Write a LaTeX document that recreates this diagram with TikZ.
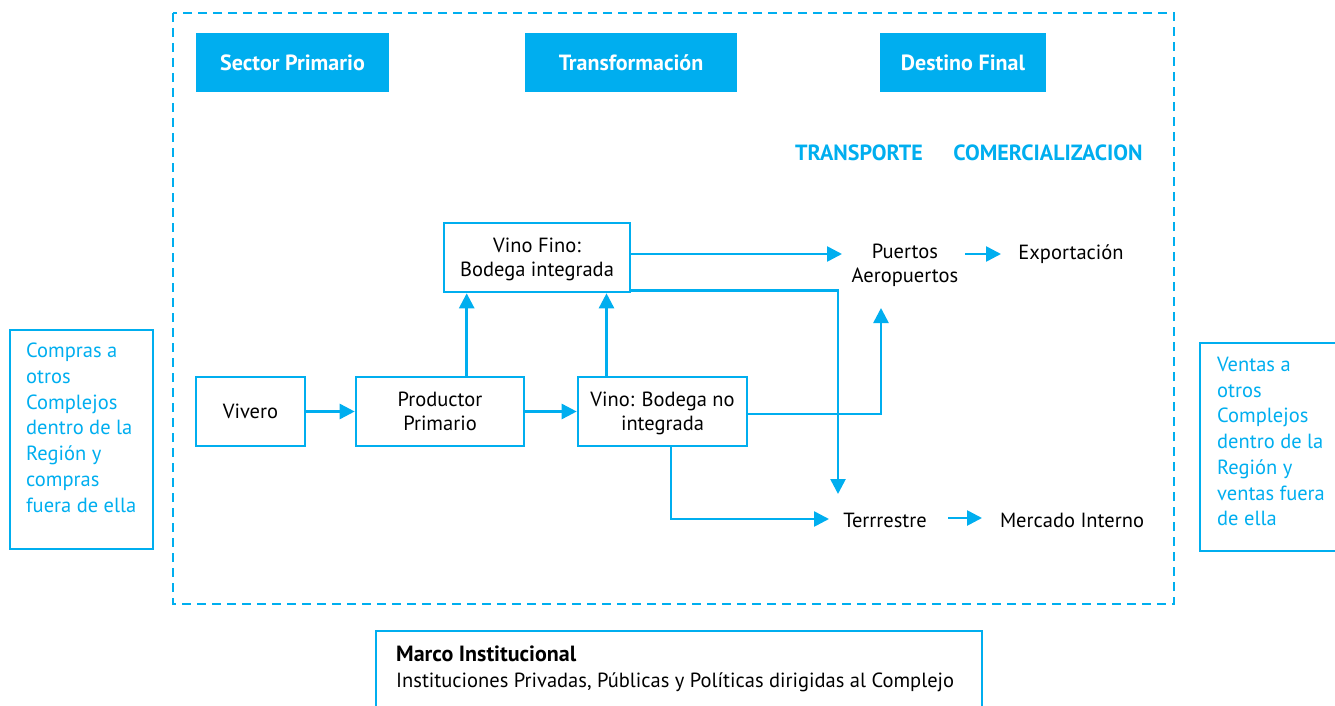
\documentclass[tikz,border=0pt]{standalone}
\usepackage{fontspec}
\setmainfont{PT Sans}
\usetikzlibrary{arrows.meta}
\definecolor{cy}{HTML}{00AEEF}
\tikzset{
  flow/.style={draw=cy, line width=2.6pt, -{Triangle[length=15pt,width=15pt]}},
  procbox/.style={draw=cy, line width=2.6pt, fill=white, align=center, inner sep=0pt, text depth=0pt, font=\fontsize{20.5}{24}\selectfont},
  headbox/.style={fill=cy, text=white, inner sep=0pt, font=\fontsize{22}{24}\selectfont\bfseries},
  plaintext/.style={align=center, inner sep=0pt, font=\fontsize{20.5}{24}\selectfont},
  colhead/.style={text=cy, inner sep=0pt, font=\fontsize{22}{24}\selectfont\bfseries},
  sidetext/.style={text=cy, align=left, inner sep=0pt, font=\fontsize{20.5}{25.7}\selectfont},
}
\begin{document}
\begin{tikzpicture}[x=1pt,y=-1pt]
\useasboundingbox (0,0) rectangle (1335,706);
\clip (0,0) rectangle (1335,706);
% dashed frame
\draw[cy, line width=2.4pt, dash pattern=on 9pt off 6pt] (173,13) rectangle (1174,604);
% headers
\node[headbox, minimum width=193pt, minimum height=59pt] (hsp) at (292.5,62.5) {Sector Primario};
\node[headbox, minimum width=212pt, minimum height=59pt] (htr) at (631,62.5) {Transformación};
\node[headbox, minimum width=166pt, minimum height=59pt] (hdf) at (963,62.5) {Destino Final};
\node[colhead] (tra) at (859,153) {TRANSPORTE};
\node[colhead] (com) at (1048,153) {COMERCIALIZACION};
% process boxes
\node[procbox, minimum width=186pt, minimum height=69pt] (vf) at (537,257.5) {Vino Fino:\\Bodega integrada};
\node[procbox, minimum width=109pt, minimum height=69pt] (viv) at (250.5,411.5) {Vivero};
\node[procbox, minimum width=168pt, minimum height=69pt] (pp) at (440,411.5) {Productor\\Primario};
\node[procbox, minimum width=169pt, minimum height=69pt] (vni) at (662.5,411.5) {Vino: Bodega no\\integrada};
% destination texts
\node[plaintext] (pue) at (905,265) {Puertos\\Aeropuertos};
\node[plaintext] (exp) at (1071,254) {Exportación};
\node[plaintext] (ter) at (885,520) {Terrrestre};
\node[plaintext] (mer) at (1072,520) {Mercado Interno};
\coordinate (pueA) at (842,254);
\coordinate (pueB) at (881,308);
\coordinate (terA) at (838,494);
\coordinate (terB) at (829,519);
\coordinate (expA) at (1001,254);
\coordinate (merA) at (982,518);
% connectors
\draw[flow] (pp.north -| vf.south west) ++(24pt,0) coordinate (ppup) -- (ppup |- vf.south);
\draw[flow] (viv.east) -- (pp.west);
\draw[flow] (pp.east) -- (vni.west);
\draw[flow] ([xshift=-56pt]vni.north) coordinate (vniup) -- (vniup |- vf.south);
\draw[flow] ([yshift=3.5pt]vf.east) -- (pueA);
\draw[flow] ([yshift=3pt]vf.south east) -| (terA);
\draw[flow] ([yshift=-2.5pt]vni.east) -| (pueB);
\draw[flow] ([xshift=8.5pt]vni.south) |- (terB);
\draw[flow] (965,254) coordinate (expS) -- (expA);
\draw[flow] (948,518) coordinate (merS) -- (merA);
% side boxes
\draw[cy, line width=2.6pt] (10,330) rectangle (153,549);
\node[sidetext, anchor=north west] (compras) at (26,343) {Compras a\\otros\\Complejos\\dentro de la\\Región y\\compras\\fuera de ella};
\draw[cy, line width=2.6pt] (1345,343) -- (1200,343) -- (1200,551) -- (1345,551);
\node[sidetext, anchor=north west] (ventas) at (1217,357) {Ventas a\\otros\\Complejos\\dentro de la\\Región y\\ventas fuera\\de ella};
% marco institucional
\draw[cy, line width=2.6pt] (376,715) -- (376,631) -- (982,631) -- (982,715);
\node[anchor=north west, align=left, inner sep=0pt, font=\fontsize{20.5}{26}\selectfont] (marco) at (396,646) {{\fontsize{22}{26}\selectfont\textbf{Marco Institucional}}\\Instituciones Privadas, Públicas y Políticas dirigidas al Complejo};
\end{tikzpicture}
\end{document}
